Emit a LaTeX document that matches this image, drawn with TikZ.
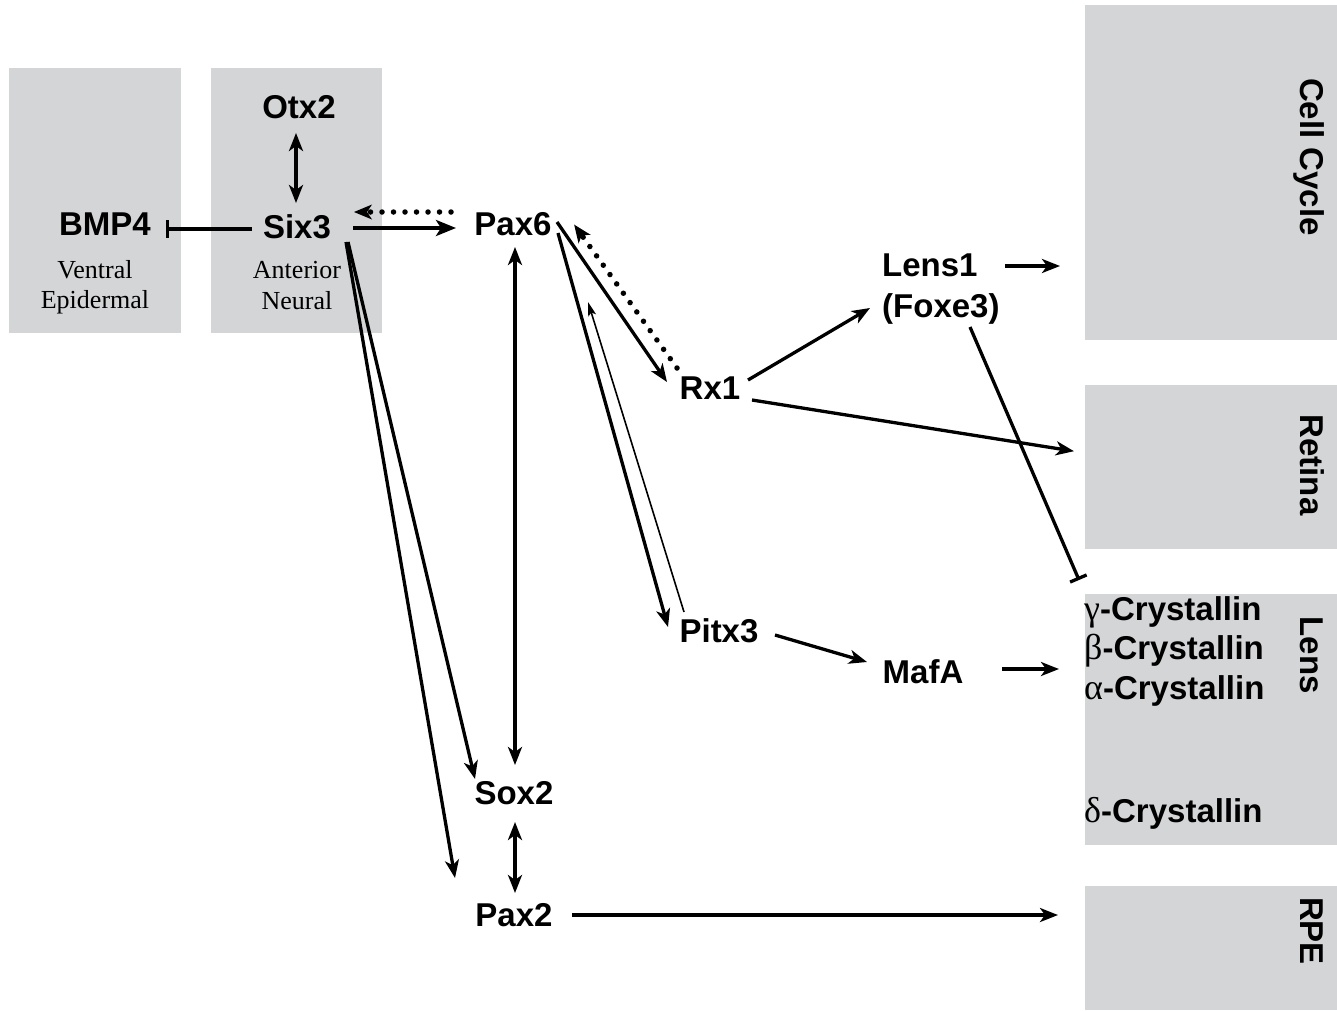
\documentclass[tikz,border=0pt]{standalone}
\usepackage{fontspec}
\setmainfont{Liberation Sans}
\newfontfamily\serifgr{Liberation Serif}
\usetikzlibrary{arrows.meta,calc}
\definecolor{boxgray}{RGB}{212,213,215}
\tikzset{
  gene/.style={font=\fontsize{33}{38}\selectfont\bfseries, inner sep=0pt, text height=23pt, text depth=0pt},
  region/.style={font=\fontsize{26}{30}\selectfont\serifgr, inner sep=0pt},
  boxr/.style={fill=boxgray, draw=none, inner sep=0pt, anchor=north west},
  side/.style={font=\fontsize{33}{38}\selectfont\bfseries, inner sep=0pt, text height=23pt, text depth=0pt, rotate=-90},
  conn/.style={line width=3.3pt, -{Stealth[length=18pt,width=14pt,inset=5pt]}},
  bconn/.style={line width=3.3pt, {Stealth[length=18pt,width=14pt,inset=5pt]}-{Stealth[length=18pt,width=14pt,inset=5pt]}},
  thickconn/.style={line width=4.8pt, -{Stealth[length=20pt,width=16pt,inset=5pt]}},
  thinconn/.style={line width=1.6pt, -{Stealth[length=14pt,width=8pt,inset=3pt]}},
  dotconn/.style={line width=5.5pt, line cap=round, dash pattern=on 0pt off 11.5pt, -{Stealth[length=18pt,width=15pt,inset=5pt,line width=0pt,sep=2pt]}},
  inh/.style={line width=3.3pt, -{Bar[width=18pt,line width=3.3pt]}},
}
\begin{document}
\begin{tikzpicture}[x=1pt,y=-1pt]
\useasboundingbox (0,0) rectangle (1337,1010);
% boxes
\node[boxr, minimum width=172pt, minimum height=265pt] (ventbox) at (9,68) {};
\node[boxr, minimum width=171pt, minimum height=265pt] (antbox) at (211,68) {};
\node[boxr, minimum width=252pt, minimum height=335pt] (ccbox) at (1085,5) {};
\node[boxr, minimum width=252pt, minimum height=164pt] (retbox) at (1085,385) {};
\node[boxr, minimum width=252pt, minimum height=251pt] (lensbox) at (1085,594) {};
\node[boxr, minimum width=252pt, minimum height=124pt] (rpebox) at (1085,886) {};
% side labels
\node[side] (cclab) at (1312,157) {Cell Cycle};
\node[side] (retlab) at (1312,465) {Retina};
\node[side] (lenslab) at (1312,655) {Lens};
\node[side] (rpelab) at (1312,931) {RPE};
% region labels
\node[region] (ventral) at (95,270) {Ventral};
\node[region] (epid) at (95,302) {Epidermal};
\node[region] (anter) at (297,270) {Anterior};
\node[region] (neural) at (297,301) {Neural};
% genes
\node[gene] (otx2) at (299,107) {Otx2};
\node[gene] (bmp4) at (105,224) {BMP4};
\node[gene] (six3) at (297,227) {Six3};
\node[gene] (pax6) at (513,224) {Pax6};
\node[gene] (rx1) at (710,388) {Rx1};
\node[gene, anchor=west] (lens1) at (882,265) {Lens1};
\node[gene, anchor=west] (foxe3) at (882,306) {(Foxe3)};
\node[gene] (pitx3) at (719,631) {Pitx3};
\node[gene] (mafa) at (923,672) {MafA};
\node[gene] (sox2) at (514,793) {Sox2};
\node[gene] (pax2) at (514,915) {Pax2};
\node[gene, anchor=west] (gcry) at (1084,609) {{\fontsize{36}{38}\serifgr\mdseries γ}-Crystallin};
\node[gene, anchor=west] (bcry) at (1084,648) {{\fontsize{36}{38}\serifgr\mdseries β}-Crystallin};
\node[gene, anchor=west] (acry) at (1084,688) {{\fontsize{36}{38}\serifgr\mdseries α}-Crystallin};
\node[gene, anchor=west] (dcry) at (1084,811) {{\fontsize{36}{38}\serifgr\mdseries δ}-Crystallin};
% connectors
\draw[inh] ($(six3.center)+(-45,2)$) -- ($(bmp4.center)+(61,5)$);
\draw[bconn] ($(otx2.center)+(-3,26)$) -- ($(six3.center)+(-1,-24)$);
\draw[thickconn] ($(six3.center)+(56,1)$) -- ($(pax6.center)+(-57,4)$);
\draw[dotconn] ($(pax6.center)+(-62,-12)$) -- ($(six3.center)+(55,-15)$);
\draw[conn] ($(six3.center)+(51,15)$) -- ($(sox2.center)+(-39,-14)$);
\draw[conn] ($(six3.center)+(49,15)$) -- ($(pax2.center)+(-59,-37)$);
\draw[bconn] ($(pax6.center)+(2,23)$) -- ($(sox2.center)+(1,-28)$);
\draw[bconn] ($(sox2.center)+(1,29)$) -- ($(pax2.center)+(1,-22)$);
\draw[conn] ($(pax2.center)+(58,0)$) -- ($(pax2.center -| rpebox.west)+(-27,0)$);
\draw[conn] ($(pax6.center)+(44,-2)$) -- ($(rx1.center)+(-43,-6)$);
\draw[dotconn] ($(rx1.center)+(-33,-20)$) -- ($(pax6.center)+(60,-1)$);
\draw[conn] ($(pax6.center)+(45,9)$) -- ($(pitx3.center)+(-51,-4)$);
\draw[thinconn] ($(pitx3.center)+(-35,-19)$) -- ($(pax6.center)+(75,78)$);
\draw[conn] ($(rx1.center)+(38,-8)$) -- ($(foxe3.west)+(-12,2)$);
\draw[conn] ($(rx1.center)+(42,12)$) -- ($(retbox.west)+(-11,-16)$);
\draw[conn] ($(lens1.west)+(123,1)$) -- ($(lens1.west -| ccbox.west)+(-25,1)$);
\draw[inh] ($(foxe3.west)+(88,21)$) -- ($(lensbox.north west)+(-6,-14)$);
\draw[conn] ($(pitx3.center)+(56,4)$) -- ($(mafa.center)+(-56,-10)$);
\draw[conn] ($(mafa.center)+(79,-3)$) -- ($(mafa.center -| lensbox.west)+(-26,-3)$);
\end{tikzpicture}
\end{document}
